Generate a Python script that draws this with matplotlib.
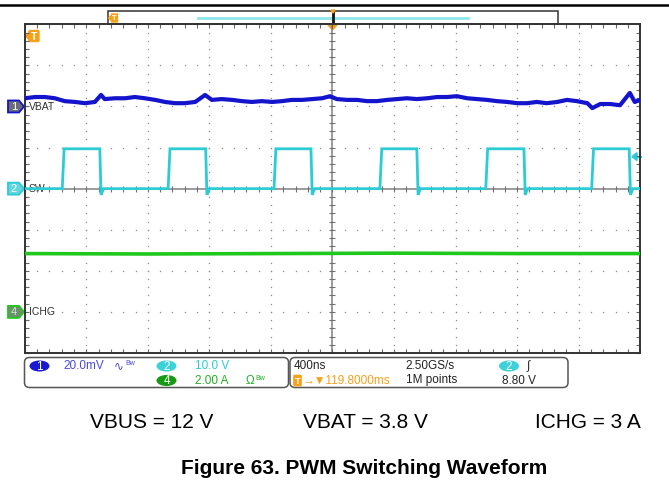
import numpy as np
import matplotlib.pyplot as plt
from matplotlib.patches import FancyBboxPatch, Ellipse, Polygon, Rectangle

W, H = 669, 499
FONT = ['Liberation Sans', 'DejaVu Sans']

# --- scope data, in screen divisions (x: 400 ns/div, y: per channel) ---
# CH2 switch node: edge times and levels
sw_rise = [0.61, 2.33, 4.05, 5.77, 7.49, 9.21]
sw_fall = [1.22, 2.94, 4.65, 6.37, 8.11, 9.82]
sw_low, sw_high, sw_dip = 0.0, 0.97, -0.15

# CH1 VBAT ripple (20 mV/div)
vbat_t = [0.00, 0.17, 0.33, 0.49, 0.65, 0.82, 0.98, 1.14, 1.24, 1.30,
          1.47, 1.63, 1.79, 1.95, 2.12, 2.28, 2.44, 2.60, 2.77, 2.93,
          3.04, 3.20, 3.37, 3.53, 3.69, 3.85, 4.02, 4.18, 4.34, 4.51,
          4.67, 4.83, 4.96, 5.07, 5.24, 5.40, 5.56, 5.72, 5.89, 6.05,
          6.21, 6.37, 6.54, 6.70, 6.86, 7.02, 7.19, 7.35, 7.51, 7.67,
          7.84, 8.00, 8.16, 8.32, 8.48, 8.65, 8.81, 8.97, 9.14, 9.22,
          9.35, 9.51, 9.67, 9.83, 9.91, 10.0]
vbat_v = [2.20, 2.23, 2.23, 2.20, 2.13, 2.11, 2.08, 2.11, 2.28, 2.18,
          2.20, 2.20, 2.23, 2.20, 2.16, 2.11, 2.08, 2.08, 2.11, 2.28,
          2.16, 2.18, 2.16, 2.13, 2.11, 2.13, 2.11, 2.13, 2.16, 2.16,
          2.18, 2.20, 2.25, 2.18, 2.16, 2.16, 2.13, 2.13, 2.16, 2.18,
          2.20, 2.18, 2.20, 2.23, 2.23, 2.25, 2.20, 2.18, 2.16, 2.13,
          2.11, 2.08, 2.08, 2.11, 2.08, 2.11, 2.16, 2.13, 2.08, 1.96,
          2.06, 2.06, 2.03, 2.33, 2.11, 2.16]

# CH4 charge current (2 A/div)
ichg_t = [0, 2, 4, 6, 8, 10]
ichg_v = [-1.58, -1.59, -1.58, -1.57, -1.58, -1.58]

# channel ground markers
ch_names = ['1', '2', '4']
ch_labels = ['VBAT', 'SW', 'ICHG']
ch_offsets = [2.0, 0.0, -3.0]
trig_level = 0.78

C_VBAT = '#1414cc'
C_SW = '#2cccd6'
C_ICHG = '#1ec81e'
C_ORANGE = '#f5a11a'

fig = plt.figure(figsize=(W / 100, H / 100), dpi=100)

# overlay in pixel coordinates for the page furniture
ov = fig.add_axes([0, 0, 1, 1])
ov.set_xlim(0, W)
ov.set_ylim(H, 0)
ov.axis('off')

# scope screen
gx0, gx1, gy0, gy1 = 24.7, 640.3, 24.3, 353.0
ax = fig.add_axes([gx0 / W, 1 - gy1 / H, (gx1 - gx0) / W, (gy1 - gy0) / H])
ax.set_facecolor('none')
ax.set_xlim(0, 10)
ax.set_ylim(-4, 4)
ax.set_xticks(range(0, 11))
ax.set_yticks(range(-4, 5))
ax.set_xticks(np.arange(0, 10.01, 0.2), minor=True)
ax.set_yticks(np.arange(-4, 4.01, 0.2), minor=True)
ax.tick_params(which='both', direction='in', top=True, right=True, length=3,
               width=0.8, color='#666666', labelleft=False, labelbottom=False)
for s in ax.spines.values():
    s.set_color('#333333')
    s.set_linewidth(1.4)

# dotted graticule
dy = np.arange(-4, 4.01, 0.2)
dx = np.arange(0, 10.01, 0.2)
for i in range(1, 10):
    if i != 5:
        ax.plot(np.full_like(dy, i), dy, ls='none', marker='s', ms=0.9,
                mew=0, color='#8c8c8c', zorder=1)
for j in range(-3, 4):
    if j != 0:
        ax.plot(dx, np.full_like(dx, j), ls='none', marker='s', ms=0.9,
                mew=0, color='#8c8c8c', zorder=1)
ax.axvline(5, color='#808080', lw=1.1, zorder=1)
ax.axhline(0, color='#808080', lw=1.1, zorder=1)
ax.plot(dx, np.zeros_like(dx), ls='none', marker='|', ms=4, mew=0.8,
        color='#707070', zorder=1)
ax.plot(np.full_like(dy, 5), dy, ls='none', marker='_', ms=4, mew=0.8,
        color='#707070', zorder=1)

# SW step waveform built from the edges
sw_x, sw_y = [0], [sw_low]
for r, f in zip(sw_rise, sw_fall):
    sw_x += [r, r + 0.03, f, f + 0.02, f + 0.06]
    sw_y += [sw_low, sw_high, sw_high, sw_dip, sw_low]
sw_x.append(10)
sw_y.append(sw_low)
ax.plot(sw_x, sw_y, color=C_SW, lw=2.0, zorder=3, solid_joinstyle='miter')

ax.plot(vbat_t, vbat_v, color=C_VBAT, lw=3.0, zorder=3)
ax.plot(ichg_t, ichg_v, color=C_ICHG, lw=2.6, zorder=3)


def to_px(v):
    return H - ax.transData.transform((0, v))[1]


# channel markers and labels
fills = ['#6c6c78', '#62d6dc', '#6e8e6e']
edges = [C_VBAT, C_SW, C_ICHG]
tcols = ['white', 'white', '#c8f0c8']
for name, lab, off, fc, ec, tc in zip(ch_names, ch_labels, ch_offsets, fills, edges, tcols):
    yp = to_px(off)
    ov.add_patch(Polygon([[8, yp - 6], [19, yp - 6], [24, yp], [19, yp + 6], [8, yp + 6]],
                         closed=True, fc=fc, ec=ec, lw=1.3, zorder=5))
    ov.text(14, yp + 0.5, name, color=tc, fontsize=8, family=FONT,
            ha='center', va='center', zorder=6)
    ov.text(28.5, yp + 0.5, lab, color='#333333', fontsize=7.5, family=FONT,
            ha='left', va='center', zorder=6)

# trigger level arrow on the right
yt = to_px(trig_level)
ov.add_patch(Polygon([[632, yt], [637, yt - 4], [637, yt + 4]], closed=True,
                     fc=C_SW, ec=C_SW, zorder=5))
ov.plot([636, 641], [yt, yt], color=C_SW, lw=1.5, zorder=5)

# trigger "T" marker, top-left of screen
ov.add_patch(FancyBboxPatch((30, 31.5), 8, 9, boxstyle='round,pad=1',
                            fc=C_ORANGE, ec=C_ORANGE, zorder=5))
ov.add_patch(Polygon([[25.5, 36], [30, 31.5], [30, 40.5]], closed=True,
                     fc=C_ORANGE, ec=C_ORANGE, zorder=5))
ov.text(34, 36.5, 'T', color='white', fontsize=7.5, family=FONT,
        fontweight='bold', ha='center', va='center', zorder=6)

# trigger position on top edge
ov.add_patch(Polygon([[328, 25], [337, 25], [332.5, 30]], closed=True,
                     fc=C_ORANGE, ec=C_ORANGE, zorder=5))

# record preview strip
ov.add_patch(Rectangle((107.5, 11.3), 450, 13, fc='white', ec='#333333', lw=1.1))
ov.plot([197.5, 468], [17.5, 17.5], color='#8fe6ea', lw=2)
ov.plot([332.5, 332.5], [11, 25], color='#111111', lw=2)
ov.add_patch(Polygon([[331, 10], [335, 10], [333, 13]], closed=True,
                     fc=C_ORANGE, ec=C_ORANGE, zorder=5))
ov.add_patch(FancyBboxPatch((112, 14.5), 5, 7, boxstyle='round,pad=0.5',
                            fc=C_ORANGE, ec=C_ORANGE, zorder=5))
ov.add_patch(Polygon([[108.5, 18], [112, 15], [112, 21]], closed=True,
                     fc=C_ORANGE, ec=C_ORANGE, zorder=5))
ov.text(114.5, 18.3, 'T', color='white', fontsize=5.5, family=FONT,
        fontweight='bold', ha='center', va='center', zorder=6)

# page rule
ov.plot([0, W], [5, 5], color='black', lw=1.8)

# readout boxes
for x0, x1 in [(24.5, 288.5), (290, 568)]:
    ov.add_patch(FancyBboxPatch((x0, 357.5), x1 - x0, 30,
                                boxstyle='round,pad=0,rounding_size=5',
                                fc='white', ec='#555555', lw=1.1))

fs = 8.5
r1, r2 = 366, 380.5
ov.add_patch(Ellipse((39.5, r1), 20, 11, fc='#1a1ad0', ec='none'))
ov.text(39.5, r1 + 0.5, '1', color='white', fontsize=fs, family=FONT, ha='center', va='center')
ov.text(63.5, r1, '20.0mV', color='#4848dd', fontsize=fs, family=FONT, va='center')
ov.text(114, r1, '∿', color='#4848dd', fontsize=fs, family=FONT, va='center')
ov.text(125, r1 - 2.5, 'Bw', color='#4848dd', fontsize=5, family=FONT, va='center')
ov.add_patch(Ellipse((166.5, r1), 20, 11, fc='#3cd2da', ec='none'))
ov.text(166.5, r1 + 0.5, '2', color='white', fontsize=fs, family=FONT, ha='center', va='center')
ov.text(195, r1, '10.0 V', color=C_SW, fontsize=fs, family=FONT, va='center')
ov.add_patch(Ellipse((166.5, r2), 20, 11, fc='#169a16', ec='none'))
ov.text(166.5, r2 + 0.5, '4', color='white', fontsize=fs, family=FONT, ha='center', va='center')
ov.text(195, r2, '2.00 A', color='#22b022', fontsize=fs, family=FONT, va='center')
ov.text(246, r2, 'Ω', color='#22b022', fontsize=fs, family=FONT, va='center')
ov.text(255, r2 - 1.5, 'Bw', color='#22b022', fontsize=5, family=FONT, va='center')

ov.text(294, r1, '400ns', color='#222222', fontsize=fs, family=FONT, va='center')
ov.text(405.5, r1, '2.50GS/s', color='#222222', fontsize=fs, family=FONT, va='center')
ov.add_patch(Ellipse((509, r1), 20, 11, fc='#3cd2da', ec='none'))
ov.text(509, r1 + 0.5, '2', color='white', fontsize=fs, family=FONT, ha='center', va='center')
ov.text(527, r1, '∫', color='#222222', fontsize=fs, family=FONT, va='center')
ov.add_patch(FancyBboxPatch((294.5, 376), 6, 9, boxstyle='round,pad=0.6',
                            fc=C_ORANGE, ec=C_ORANGE))
ov.text(297.5, r2 + 0.5, 'T', color='white', fontsize=6.5, family=FONT,
        fontweight='bold', ha='center', va='center')
ov.text(302.5, r2, '→▼119.8000ms', color=C_ORANGE, fontsize=fs, family=FONT, va='center')
ov.text(405.5, r2, '1M points', color='#222222', fontsize=fs, family=FONT, va='center')
ov.text(501.5, r2, '8.80 V', color='#222222', fontsize=fs, family=FONT, va='center')

# conditions and caption
for x, s in [(89.6, 'VBUS = 12 V'), (303, 'VBAT = 3.8 V'), (535.4, 'ICHG = 3 A')]:
    ov.text(x, 422, s, fontsize=15, family=FONT, ha='left', va='center', color='black')
ov.text(363.7, 468, 'Figure 63. PWM Switching Waveform', fontsize=15, family=FONT,
        fontweight='bold', ha='center', va='center', color='black')

fig.savefig('out.png', dpi=100)
